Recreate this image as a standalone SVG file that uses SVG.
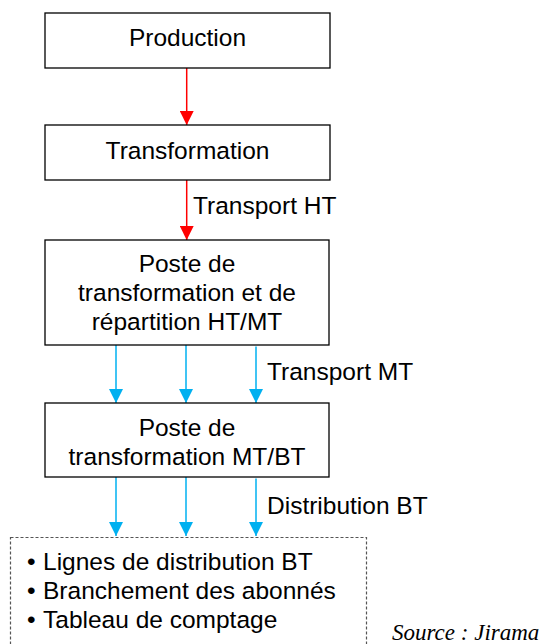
<svg xmlns="http://www.w3.org/2000/svg" width="555" height="644" viewBox="0 0 555 644">
<style>
.box{fill:#fff;stroke:#000;stroke-width:1.3}
.t{font-family:"Liberation Sans",Arial,sans-serif;font-size:24.5px;fill:#000}
.c{text-anchor:middle}
.red{stroke:#FF0000;stroke-width:1.5;fill:none}
.blue{stroke:#00B0F0;stroke-width:1.5;fill:none}
.src{font-family:"Liberation Serif","Times New Roman",serif;font-style:italic;font-size:23px;fill:#000}
</style>
<defs>
<marker id="ar" viewBox="0 0 14 14" refX="14" refY="7" markerWidth="14" markerHeight="14" markerUnits="userSpaceOnUse" orient="auto">
<path d="M0,0 L14,7 L0,14 Z" fill="#FF0000"/>
</marker>
<marker id="ab" viewBox="0 0 14 14" refX="14" refY="7" markerWidth="14" markerHeight="14" markerUnits="userSpaceOnUse" orient="auto">
<path d="M0,0 L14,7 L0,14 Z" fill="#00B0F0"/>
</marker>
</defs>
<g id="connectors">
<line class="red" x1="186.7" y1="68" x2="186.7" y2="125" marker-end="url(#ar)"/>
<line class="red" x1="186.7" y1="180" x2="186.7" y2="240" marker-end="url(#ar)"/>
<line class="blue" x1="116" y1="345" x2="116" y2="403" marker-end="url(#ab)"/>
<line class="blue" x1="186" y1="345" x2="186" y2="403" marker-end="url(#ab)"/>
<line class="blue" x1="256" y1="346.5" x2="256" y2="403" marker-end="url(#ab)"/>
<line class="blue" x1="116" y1="477" x2="116" y2="536" marker-end="url(#ab)"/>
<line class="blue" x1="186" y1="477" x2="186" y2="536" marker-end="url(#ab)"/>
<line class="blue" x1="256" y1="478.5" x2="256" y2="536" marker-end="url(#ab)"/>
<text class="t" x="193" y="214">Transport HT</text>
<text class="t" x="267" y="380">Transport MT</text>
<text class="t" x="267" y="514">Distribution BT</text>
</g>
<g id="production">
<rect class="box" x="45" y="13" width="285" height="55"/>
<text class="t c" x="187.5" y="46">Production</text>
</g>
<g id="transformation">
<rect class="box" x="45" y="125" width="285" height="55"/>
<text class="t c" x="187.5" y="159">Transformation</text>
</g>
<g id="poste-ht-mt">
<rect class="box" x="45" y="240" width="284" height="105"/>
<text class="t c" x="187" y="272">Poste de</text>
<text class="t c" x="187" y="301">transformation et de</text>
<text class="t c" x="187" y="330">répartition HT/MT</text>
</g>
<g id="poste-mt-bt">
<rect class="box" x="45" y="403" width="284" height="74"/>
<text class="t c" x="187" y="436">Poste de</text>
<text class="t c" x="187" y="465">transformation MT/BT</text>
</g>
<g id="usagers">
<rect x="10.5" y="537.5" width="356" height="120" fill="none" stroke="#555" stroke-width="1.2" stroke-dasharray="3,2"/>
<text class="t" x="27" y="570">•</text>
<text class="t" x="43" y="570">Lignes de distribution BT</text>
<text class="t" x="27" y="599">•</text>
<text class="t" x="43" y="599">Branchement des abonnés</text>
<text class="t" x="27" y="628">•</text>
<text class="t" x="43" y="628">Tableau de comptage</text>
</g>
<text class="src" x="392" y="640">Source : Jirama</text>
</svg>
